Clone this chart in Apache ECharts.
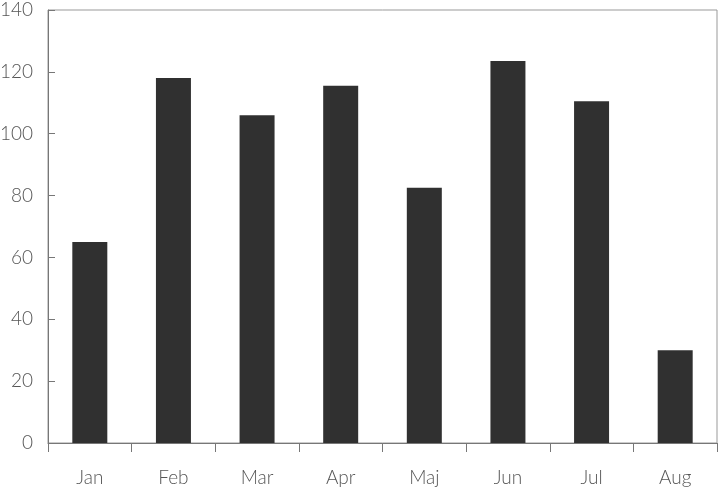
<!DOCTYPE html>
<html>
<head>
<meta charset="utf-8">
<script src="https://cdn.jsdelivr.net/npm/echarts@6/dist/echarts.min.js"></script>
<style>
  html, body { margin: 0; padding: 0; background: #fff; }
  #chart { width: 722px; height: 490px; }
</style>
</head>
<body>
<div id="chart"></div>
<script>
  var months = ['Jan', 'Feb', 'Mar', 'Apr', 'Maj', 'Jun', 'Jul', 'Aug']
  var values = [65, 118, 106, 115.5, 82.5, 123.5, 110.5, 30]
  var yTicks = [0, 20, 40, 60, 80, 100, 120, 140]

  var axisColor = '#777'
  var textColor = '#555'

  var option = {
    animation: false,
    grid: {
      left: 48,
      right: 5,
      top: 10,
      bottom: 47,
      outerBoundsMode: 'none',
      show: true,
      borderColor: '#999',
      borderWidth: 1
    },
    xAxis: {
      type: 'category',
      data: months,
      axisLine: { lineStyle: { color: axisColor, width: 1 } },
      axisTick: { show: true, inside: false, length: 9, alignWithLabel: false, lineStyle: { color: axisColor } },
      axisLabel: {
        color: textColor,
        fontFamily: 'Lato',
        fontWeight: 300,
        fontSize: 19,
        margin: 25
      }
    },
    yAxis: {
      type: 'value',
      min: yTicks[0],
      max: yTicks[yTicks.length - 1],
      interval: 20,
      splitLine: { show: false },
      axisLine: { show: true, lineStyle: { color: axisColor, width: 1 } },
      axisTick: { show: true, inside: true, length: 7, lineStyle: { color: axisColor } },
      axisLabel: {
        color: textColor,
        fontFamily: 'Lato',
        fontWeight: 300,
        fontSize: 19,
        margin: 15
      }
    },
    series: [{
      type: 'bar',
      data: values,
      barWidth: 35,
      itemStyle: { color: '#303030' }
    }]
  }

  var myChart = echarts.init(document.getElementById('chart'))
  myChart.setOption(option)
</script>
</body>
</html>
